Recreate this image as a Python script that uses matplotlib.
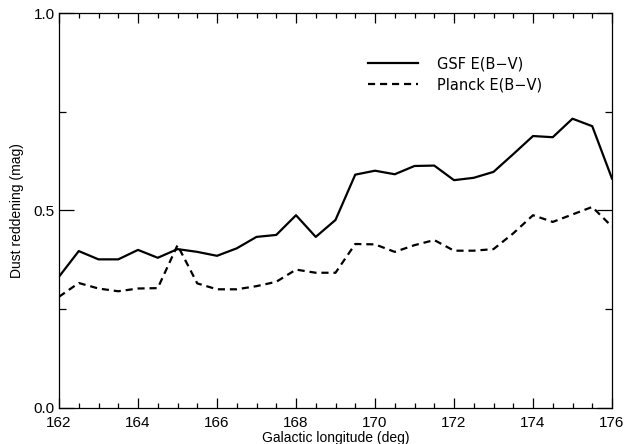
import numpy as np
import matplotlib
matplotlib.use("Agg")
import matplotlib.pyplot as plt
from matplotlib.ticker import MultipleLocator

# galactic longitude grid (deg)
lon = np.arange(162.0, 176.01, 0.5)

gsf = [0.332, 0.397, 0.376, 0.376, 0.400, 0.380, 0.402, 0.395, 0.385, 0.404,
       0.433, 0.438, 0.488, 0.433, 0.476, 0.591, 0.601, 0.592, 0.613, 0.614,
       0.577, 0.583, 0.598, 0.643, 0.689, 0.686, 0.733, 0.714, 0.581]
planck = [0.281, 0.316, 0.302, 0.295, 0.302, 0.303, 0.412, 0.315, 0.300, 0.300,
          0.308, 0.319, 0.350, 0.342, 0.342, 0.415, 0.414, 0.395, 0.412, 0.425,
          0.398, 0.398, 0.402, 0.442, 0.488, 0.471, 0.490, 0.509, 0.459]

plt.rcParams['font.family'] = ['Liberation Sans', 'DejaVu Sans']

fig = plt.figure(figsize=(6.34, 4.44), dpi=100)
ax = fig.add_axes([59/634, 1 - 407.5/444, 553/634, 394/444])

ax.plot(lon, gsf, color='black', lw=1.6, label='GSF E(B\u2212V)')
ax.plot(lon, planck, color='black', lw=1.6, dashes=(3.2, 2.2),
        label='Planck E(B\u2212V)')

ax.set_xlim(162, 176)
ax.set_ylim(0, 1)
ax.xaxis.set_major_locator(MultipleLocator(2))
ax.xaxis.set_minor_locator(MultipleLocator(0.5))
ax.yaxis.set_minor_locator(MultipleLocator(0.25))
ax.set_yticks([0, 0.5, 1.0])
ax.set_yticklabels(['0.0', '0.5', '1.0'])

ax.tick_params(which='both', direction='in', top=True, right=True,
               width=0.9, labelsize=11, color='black')
ax.tick_params(axis='x', which='major', length=7, pad=6)
ax.tick_params(axis='x', which='minor', length=3.5)
ax.tick_params(axis='y', which='major', length=11, pad=3)
ax.tick_params(axis='y', which='minor', length=5)
for s in ax.spines.values():
    s.set_linewidth(0.9)

ax.set_xlabel('Galactic longitude (deg)', fontsize=10, labelpad=1)
ax.set_ylabel('Dust reddening (mag)', fontsize=10, labelpad=7)

leg = ax.legend(loc='upper left', bbox_to_anchor=(0.535, 0.925), frameon=False,
                handlelength=3.4, handletextpad=1.3, labelspacing=0.4,
                prop={'family': 'DejaVu Sans', 'size': 10.5})
for t in leg.get_texts():
    t.set_color('black')

fig.savefig('out.png', dpi=100)
